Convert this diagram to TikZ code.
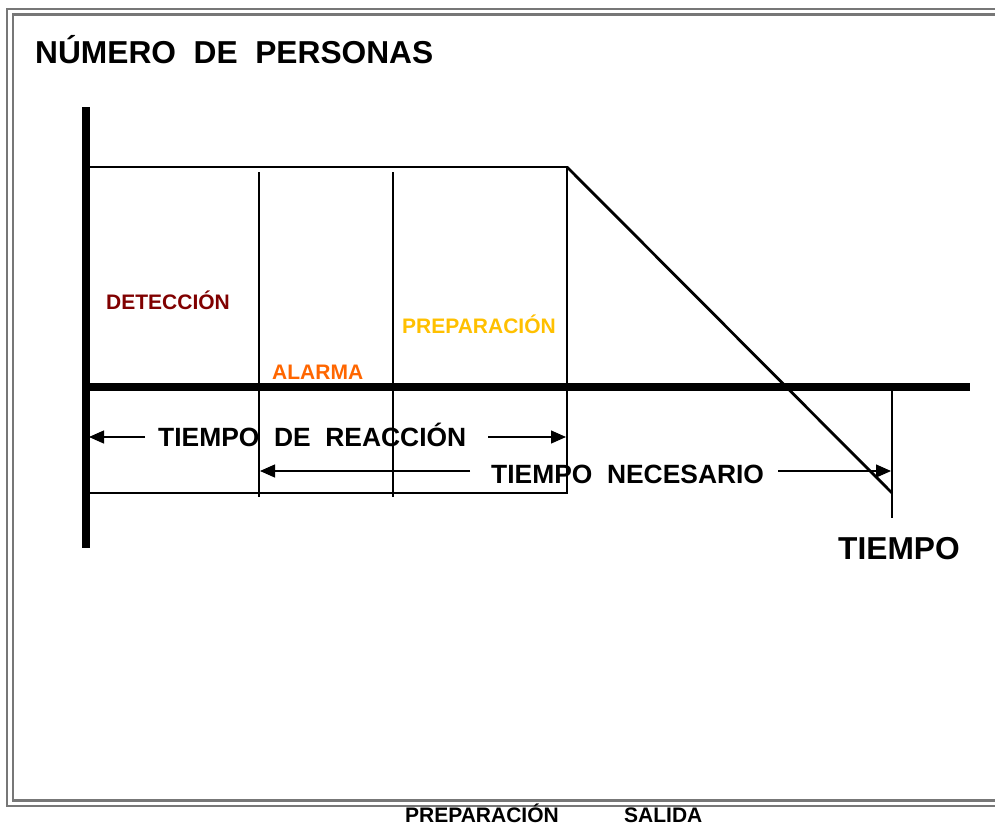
\documentclass[tikz,border=0pt]{standalone}
\usepackage{fontspec}
\setmainfont{Liberation Sans}
\usetikzlibrary{arrows.meta}
\definecolor{detcol}{HTML}{800000}
\definecolor{alacol}{HTML}{FF6600}
\definecolor{precol}{HTML}{FFC000}
\definecolor{framecol}{HTML}{777777}
\tikzset{
  axisline/.style={line width=8pt},
  thinline/.style={line width=2.6pt},
  framestyle/.style={draw=framecol,line width=2.8pt},
  dimarrow/.style={line width=1.3pt,-{Triangle[length=15pt,width=13pt]}},
  bigtext/.style={font=\fontsize{31.7}{33}\selectfont\bfseries,inner sep=0pt,anchor=base west},
  midtext/.style={font=\fontsize{26.4}{28}\selectfont\bfseries,inner sep=0pt,anchor=base west},
  smalltext/.style={font=\fontsize{21}{23}\selectfont\bfseries,inner sep=0pt,anchor=base west},
}
\begin{document}
\begin{tikzpicture}[x=1pt,y=-1pt]
\useasboundingbox (0,0) rectangle (995,825);
% double frame
\draw[framestyle] (1000,9) -- (7,9) -- (7,806) -- (1000,806);
\draw[framestyle] (1000,14.5) -- (13,14.5) -- (13,800.5) -- (1000,800.5);
% title
\node[bigtext] (title) at (35,63) {NÚMERO\ \ DE\ \ PERSONAS};
% coordinates
\coordinate (ytop) at (86,107);
\coordinate (ybot) at (86,548);
\coordinate (xl) at (86,387);
\coordinate (xr) at (970,387);
\coordinate (tl) at (89,167);
\coordinate (tr) at (567,167);
\coordinate (bl) at (89,493);
\coordinate (br) at (567,493);
\coordinate (v1t) at (259,172);
\coordinate (v1b) at (259,497);
\coordinate (v2t) at (393,172);
\coordinate (v2b) at (393,497);
\coordinate (end) at (892,493);
\coordinate (vet) at (892,383);
\coordinate (veb) at (892,518);
% rectangle structure
\draw[thinline] (tl) -- (tr) -- (br) -- (bl);
\draw[thinline] (v1t) -- (v1b);
\draw[thinline] (v2t) -- (v2b);
\draw[line width=2.8pt] (tr) -- (end);
\draw[line width=2pt] (vet) -- (veb);
% axes
\draw[axisline] (ytop) -- (ybot);
\draw[axisline] (xl) -- (xr);
% phase labels
\node[smalltext,text=detcol] (det) at (106,309.5) {DETECCIÓN};
\node[smalltext,text=precol] (prep) at (402,333.5) {PREPARACIÓN};
\node[smalltext,text=alacol] (ala) at (272,379) {ALARMA};
% tiempo de reaccion
\node[midtext] (treac) at (158,446) {TIEMPO\ \ DE\ \ REACCIÓN};
\coordinate (ra1) at (145,437);
\coordinate (ra1e) at (89,437);
\coordinate (ra2) at (488,437);
\coordinate (ra2e) at (566,437);
\draw[dimarrow] (ra1) -- (ra1e);
\draw[dimarrow] (ra2) -- (ra2e);
% tiempo necesario
\node[midtext] (tnec) at (491,483) {TIEMPO\ \ NECESARIO};
\coordinate (na1) at (470,471);
\coordinate (na1e) at (260,471);
\coordinate (na2) at (778,471);
\coordinate (na2e) at (891,471);
\draw[dimarrow] (na1) -- (na1e);
\draw[dimarrow] (na2) -- (na2e);
% axis label
\node[bigtext] (tiempo) at (838,559) {TIEMPO};
% bottom labels
\node[smalltext] (bprep) at (405,822) {PREPARACIÓN};
\node[smalltext] (bsal) at (624,822) {SALIDA};
\end{tikzpicture}
\end{document}
